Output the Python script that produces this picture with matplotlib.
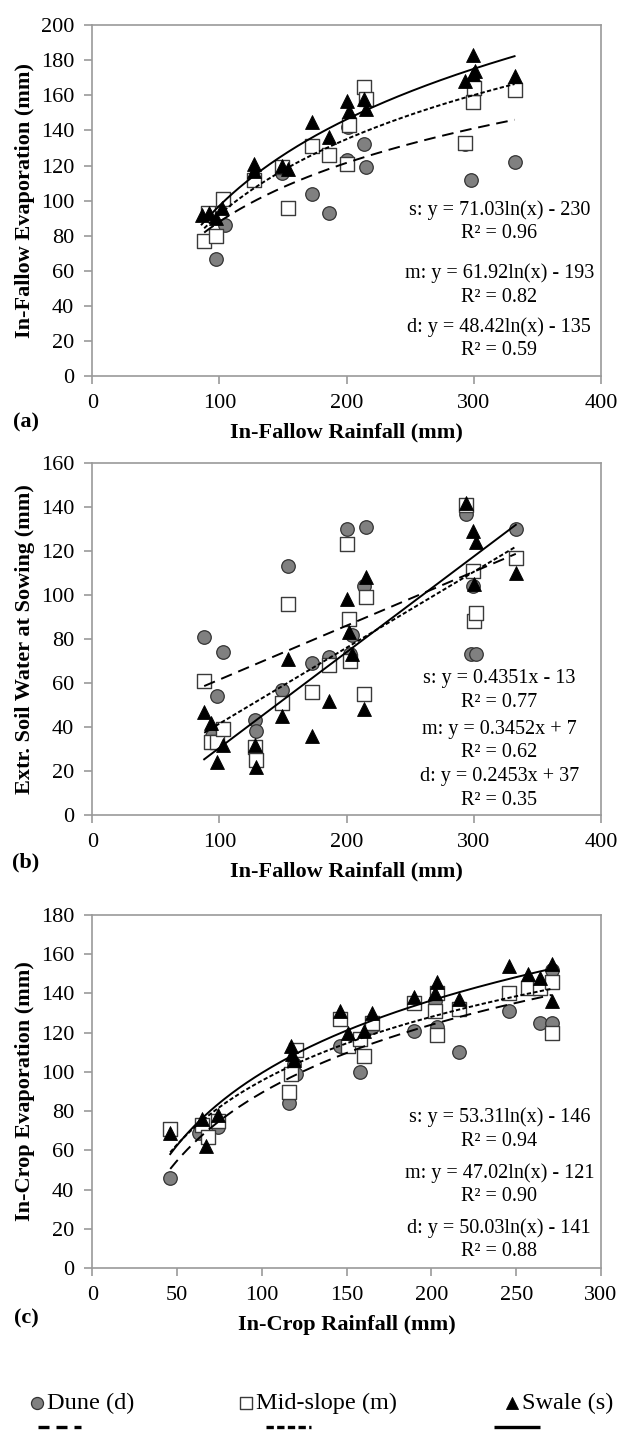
import numpy as np
import matplotlib
matplotlib.use('Agg')
from matplotlib import pyplot as plt

plt.rcParams['font.family'] = ['Liberation Serif', 'DejaVu Serif']

# (a) in-fallow rainfall vs in-fallow evaporation
a_dune_x = [88, 97, 104, 127, 149, 154, 173, 186, 200, 201, 214, 215, 293, 298, 332]
a_dune_y = [77, 67, 86, 113, 116, 96, 104, 93, 123, 142, 132, 119, 132, 112, 122]
a_mid_x = [88, 91, 97, 103, 127, 149, 154, 173, 186, 200, 202, 214, 215, 293, 299, 300, 332]
a_mid_y = [77, 93, 80, 101, 112, 119, 96, 131, 126, 121, 143, 165, 158, 133, 156, 164, 163]
a_swale_x = [86, 92, 97, 102, 127, 127, 149, 154, 173, 186, 200, 202, 214, 215, 293, 299, 299, 301, 332]
a_swale_y = [92, 93, 90, 96, 121, 117, 120, 118, 145, 136, 157, 151, 158, 152, 168, 183, 172, 174, 171]

# (b) in-fallow rainfall vs extractable soil water at sowing
b_dune_x = [88, 94, 98, 103, 128, 129, 149, 154, 173, 186, 200, 203, 204, 214, 215, 294, 299, 298, 302, 333]
b_dune_y = [81, 36, 54, 74, 43, 38, 57, 113, 69, 72, 130, 73, 82, 104, 131, 137, 104, 73, 73, 130]
b_mid_x = [88, 93, 98, 103, 128, 129, 149, 154, 173, 186, 200, 202, 203, 214, 215, 294, 299, 300, 302, 333]
b_mid_y = [61, 33, 33, 39, 31, 25, 51, 96, 56, 68, 123, 89, 70, 55, 99, 141, 111, 88, 92, 117]
b_swale_x = [88, 93, 98, 103, 128, 129, 149, 154, 173, 186, 200, 202, 204, 214, 215, 294, 299, 300, 302, 333]
b_swale_y = [47, 42, 24, 32, 32, 22, 45, 71, 36, 52, 98, 83, 73, 48, 108, 142, 129, 105, 124, 110]

# (c) in-crop rainfall vs in-crop evaporation
c_dune_x = [46, 63, 74, 116, 116, 119, 120, 146, 151, 158, 160, 165, 190, 202, 203, 216, 246, 264, 271, 271]
c_dune_y = [46, 69, 72, 84, 90, 104, 99, 113, 114, 100, 108, 123, 121, 136, 123, 110, 131, 125, 125, 152]
c_mid_x = [46, 65, 68, 74, 116, 117, 120, 146, 151, 158, 160, 165, 190, 202, 203, 203, 216, 246, 257, 264, 271, 271]
c_mid_y = [71, 73, 67, 75, 90, 99, 111, 127, 113, 117, 108, 125, 135, 131, 119, 140, 132, 140, 143, 143, 146, 120]
c_swale_x = [46, 65, 67, 74, 117, 118, 119, 146, 151, 160, 165, 190, 202, 203, 216, 246, 257, 264, 271, 271]
c_swale_y = [69, 76, 62, 78, 113, 109, 106, 131, 120, 121, 130, 138, 140, 146, 137, 154, 150, 148, 155, 136]

# fitted trendlines as printed on the chart
a_fit = {'d': (48.42, -135), 'm': (61.92, -193), 's': (71.03, -230)}
b_fit = {'d': (0.2453, 37), 'm': (0.3452, 7), 's': (0.4351, -13)}
c_fit = {'d': (50.03, -141), 'm': (47.02, -121), 's': (53.31, -146)}
a_text = ['s: y = 71.03ln(x) - 230\nR² = 0.96', 'm: y = 61.92ln(x) - 193\nR² = 0.82',
          'd: y = 48.42ln(x) - 135\nR² = 0.59']
b_text = ['s: y = 0.4351x - 13\nR² = 0.77', 'm: y = 0.3452x + 7\nR² = 0.62',
          'd: y = 0.2453x + 37\nR² = 0.35']
c_text = ['s: y = 53.31ln(x) - 146\nR² = 0.94', 'm: y = 47.02ln(x) - 121\nR² = 0.90',
          'd: y = 50.03ln(x) - 141\nR² = 0.88']

marker_style = {
    'd': dict(marker='o', c='#808080', edgecolors='#333333', linewidths=0.9),
    'm': dict(marker='s', c='white', edgecolors='#3a3a3a', linewidths=1.0),
    's': dict(marker='^', c='black', edgecolors='black', linewidths=0.6),
}
marker_size = {'d': 95, 'm': 88, 's': 100}
line_style = {
    'd': dict(color='black', lw=1.4, dashes=(6, 3.5)),
    'm': dict(color='black', lw=1.4, dashes=(2.2, 1.2)),
    's': dict(color='black', lw=1.4),
}
legend_dashes = {'d': (3.3, 2.1), 'm': (2.2, 1.0)}

fig = plt.figure(figsize=(6.19, 14.32), dpi=100)


def panel(rect, data, fit, kind, texts, text_y, xmax, xstep, ymax, xlabel, ylabel, tag, tag_y):
    ax = fig.add_axes(rect)
    for key, (x, y) in zip(['d', 'm', 's'], data):
        ax.scatter(x, y, s=marker_size[key], zorder=3, **marker_style[key])
    for key, (x, y) in zip(['d', 'm', 's'], data):
        xs = np.linspace(min(x), max(x), 200)
        k, c = fit[key]
        ys = k * np.log(xs) + c if kind == 'log' else k * xs + c
        ax.plot(xs, ys, zorder=4, **line_style[key])
    for t, ty in zip(texts, text_y):
        ax.text(0.80, ty, t, transform=ax.transAxes, ha='center', va='center',
                multialignment='center', fontsize=14.5, linespacing=1.32, zorder=5)
    ax.set_xlim(0, xmax)
    ax.set_ylim(0, ymax)
    ax.set_xticks(np.arange(0, xmax + 1, xstep))
    ax.set_yticks(np.arange(0, ymax + 1, 20))
    for sp in ax.spines.values():
        sp.set_color('#9a9a9a')
        sp.set_linewidth(1.2)
    ax.tick_params(direction='out', length=6, width=1.2, color='#9a9a9a',
                   labelsize=16, pad=7)
    ax.set_xlabel(xlabel, fontsize=16, fontweight='bold', labelpad=7)
    ax.set_ylabel(ylabel, fontsize=16, fontweight='bold', labelpad=4)
    fig.text(0.042, tag_y, tag, fontsize=16, fontweight='bold', ha='center', va='center')
    return ax


panel([0.149, 0.7374, 0.822, 0.245],
      [(a_dune_x, a_dune_y), (a_mid_x, a_mid_y), (a_swale_x, a_swale_y)],
      a_fit, 'log', a_text, [0.44, 0.259, 0.107], 400, 100, 200,
      'In-Fallow Rainfall (mm)', 'In-Fallow Evaporation (mm)', '(a)', 0.705)

panel([0.149, 0.4309, 0.822, 0.2458],
      [(b_dune_x, b_dune_y), (b_mid_x, b_mid_y), (b_swale_x, b_swale_y)],
      b_fit, 'lin', b_text, [0.353, 0.21, 0.075], 400, 100, 160,
      'In-Fallow Rainfall (mm)', 'Extr. Soil Water at Sowing (mm)', '(b)', 0.398)

panel([0.149, 0.1145, 0.822, 0.2465],
      [(c_dune_x, c_dune_y), (c_mid_x, c_mid_y), (c_swale_x, c_swale_y)],
      c_fit, 'log', c_text, [0.394, 0.237, 0.081], 300, 50, 180,
      'In-Crop Rainfall (mm)', 'In-Crop Evaporation (mm)', '(c)', 0.0796)

# legend drawn in its own strip, pixel units
lax = fig.add_axes([0, 0, 1, 0.05])
lax.set_xlim(0, 619)
lax.set_ylim(71.6, 0)
lax.axis('off')
for key, mx, label, lx in [('d', 37, 'Dune (d)', (38, 81)),
                           ('m', 246, 'Mid-slope (m)', (266, 311)),
                           ('s', 512, 'Swale (s)', (494, 540))]:
    lax.scatter([mx], [43], s=75, clip_on=False, **marker_style[key])
    lax.text(mx + 10, 43, label, fontsize=17.5, va='center', ha='left')
    style = dict(line_style[key])
    style['lw'] = 2.4
    if key in legend_dashes:
        style['dashes'] = legend_dashes[key]
    lax.plot(list(lx), [67, 67], clip_on=False, solid_capstyle='butt',
             dash_capstyle='butt', **style)

fig.savefig('out.png', dpi=100)
